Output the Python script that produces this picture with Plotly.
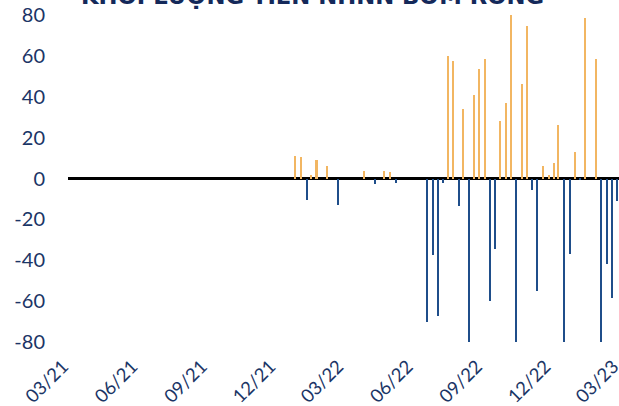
import plotly.graph_objects as go

title_text = "KHỐI LƯỢNG TIỀN NHNN BƠM RÒNG"

pos_dates = ["2021-12-28", "2022-01-05", "2022-01-18", "2022-01-25", "2022-02-08",
             "2022-03-29", "2022-04-25", "2022-05-02", "2022-07-18", "2022-07-25",
             "2022-08-08", "2022-08-22", "2022-08-29", "2022-09-05", "2022-09-26",
             "2022-10-04", "2022-10-10", "2022-10-24", "2022-10-31", "2022-11-21",
             "2022-11-29", "2022-12-06", "2022-12-12", "2023-01-03", "2023-01-16",
             "2023-01-31"]
pos_values = [11, 10.5, 1.5, 9, 6,
              3.5, 3.7, 3, 60, 57.5,
              34, 41, 53.7, 58.7, 28,
              37, 85, 46.3, 74.7, 6.2,
              1.7, 7.8, 26.4, 12.8, 78.6,
              58.5]

neg_dates = ["2022-01-12", "2022-02-22", "2022-04-12", "2022-05-10", "2022-06-20",
             "2022-06-28", "2022-07-05", "2022-07-12", "2022-08-02", "2022-08-15",
             "2022-09-12", "2022-09-19", "2022-10-17", "2022-11-07", "2022-11-14",
             "2022-12-20", "2022-12-27", "2023-01-10", "2023-02-06", "2023-02-14",
             "2023-02-21", "2023-02-28"]
neg_values = [-10.5, -13, -2.5, -2, -70,
              -37.6, -67.2, -2, -13.4, -85,
              -59.9, -34.7, -85, -5.5, -54.9,
              -85, -37.1, -0.5, -85, -41.6,
              -58.4, -11]

tick_dates = ["2021-03-01", "2021-06-01", "2021-09-01", "2021-12-01", "2022-03-01",
              "2022-06-01", "2022-09-01", "2022-12-01", "2023-03-01"]
tick_labels = ["03/21", "06/21", "09/21", "12/21", "03/22", "06/22", "09/22", "12/22", "03/23"]
y_ticks = [-80, -60, -40, -20, 0, 20, 40, 60, 80]
y_tick_labels = ["-80", "-60", "-40", "-20", "0", "20", "40", "60", "80"]

DAY = 86400000
navy = "#1B3566"

fig = go.Figure()
fig.add_trace(go.Bar(x=pos_dates, y=pos_values, width=[2.0 * DAY] * len(pos_dates),
                     marker=dict(color="#F2B662", line=dict(width=0)), showlegend=False))
fig.add_trace(go.Bar(x=neg_dates, y=neg_values, width=[2.0 * DAY] * len(neg_dates),
                     marker=dict(color="#1F4E8A", line=dict(width=0)), showlegend=False))

fig.update_layout(
    width=619, height=406,
    margin=dict(l=68, r=0, t=15, b=64),
    plot_bgcolor="white", paper_bgcolor="white",
    bargap=0,
    font=dict(family="Lato", color=navy, size=20),
    xaxis=dict(type="date", range=["2021-03-01", "2023-03-02"],
               tickvals=tick_dates, ticktext=tick_labels, tickangle=-45,
               ticklabeloverflow="allow", ticklabelstandoff=9, ticklabelshift=-5,
               showgrid=False, showline=False, zeroline=False, ticks="",
               tickfont=dict(size=18.5, color=navy), automargin=False),
    yaxis=dict(range=[-80, 80], tickvals=y_ticks, ticktext=y_tick_labels,
               showgrid=False, showline=False,
               zeroline=True, zerolinecolor="black", zerolinewidth=3,
               ticks="", ticklabelstandoff=22,
               tickfont=dict(size=20, color=navy), automargin=False),
    annotations=[dict(text="<b>" + title_text + "</b>", xref="paper", yref="paper",
                      x=0.4446, y=1, xanchor="center", yanchor="bottom", yshift=4,
                      showarrow=False, font=dict(family="DejaVu Sans", size=22.7, color="#14295A"))],
)

fig.write_html("out.html")
